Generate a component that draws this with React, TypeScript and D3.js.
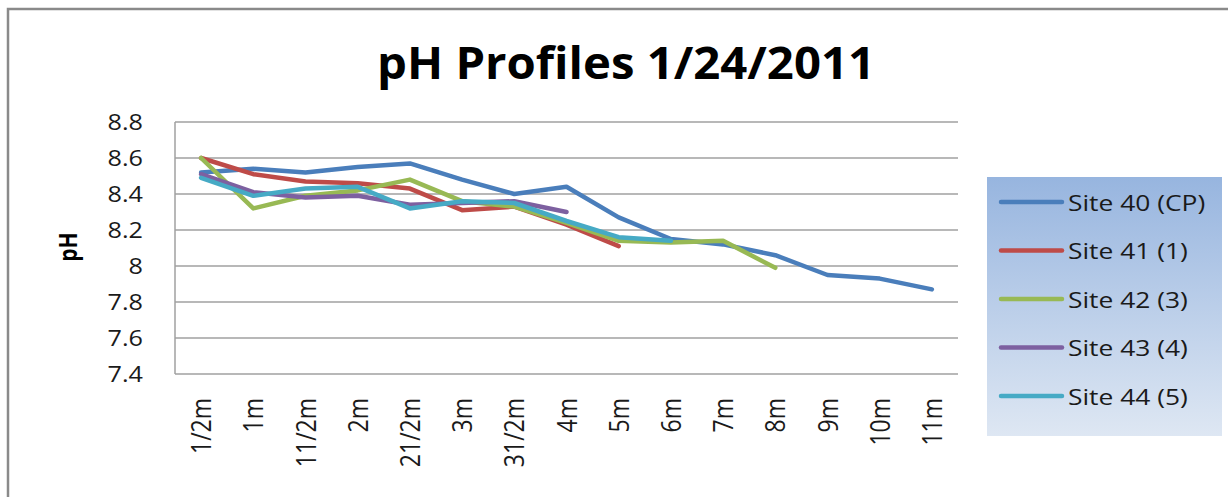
import React from "react";
import * as d3 from "d3";

// depth categories along the x axis
const categories = ["1/2m", "1m", "11/2m", "2m", "21/2m", "3m", "31/2m", "4m", "5m", "6m", "7m", "8m", "9m", "10m", "11m"];

// pH readings per site
const site40 = [8.52, 8.54, 8.52, 8.55, 8.57, 8.48, 8.40, 8.44, 8.27, 8.15, 8.12, 8.06, 7.95, 7.93, 7.87];
const site41 = [8.60, 8.51, 8.47, 8.46, 8.43, 8.31, 8.33, 8.23, 8.11];
const site42 = [8.60, 8.32, 8.39, 8.42, 8.48, 8.36, 8.33, 8.24, 8.14, 8.13, 8.14, 7.99];
const site43 = [8.51, 8.41, 8.38, 8.39, 8.34, 8.35, 8.36, 8.30];
const site44 = [8.49, 8.39, 8.43, 8.44, 8.32, 8.36, 8.35, 8.25, 8.16, 8.14];

const seriesNames = ["Site 40 (CP)", "Site 41 (1)", "Site 42 (3)", "Site 43 (4)", "Site 44 (5)"];
const yTicks = [7.4, 7.6, 7.8, 8, 8.2, 8.4, 8.6, 8.8];

const colors = ["#4A7EBB", "#BE4B48", "#98B954", "#7D60A0", "#46AAC5"];
const font = "'Open Sans', 'DejaVu Sans', sans-serif";

export default function App() {
  const width = 1228;
  const height = 497;
  const plot = { left: 175, right: 958, top: 122, bottom: 374 };

  const x = d3.scaleBand().domain(categories).range([plot.left, plot.right]);
  const y = d3.scaleLinear().domain([7.4, 8.8]).range([plot.bottom, plot.top]);

  const allSeries = [site40, site41, site42, site43, site44];

  const line = d3
    .line<number>()
    .x((d, i) => x(categories[i])! + x.bandwidth() / 2)
    .y((d) => y(d));

  const legend = { x: 987, y: 177, w: 235, h: 259 };

  return (
    <svg
      width={width}
      height={height}
      style={{ position: "absolute", left: 0, top: 0, background: "#fff" }}
    >
      <defs>
        <linearGradient id="legendFill" x1="0" y1="0" x2="0" y2="1">
          <stop offset="0%" stopColor="#97B5DF" />
          <stop offset="100%" stopColor="#DEE7F3" />
        </linearGradient>
      </defs>

      {/* chart frame */}
      <rect x={8} y={9} width={1250} height={510} fill="#fff" stroke="#8A8A8A" strokeWidth={2.5} />

      {/* title */}
      <text
        x={626}
        y={79}
        textAnchor="middle"
        fontFamily={font}
        fontWeight="bold"
        fontSize={45}
        textLength={498}
        lengthAdjust="spacingAndGlyphs"
        fill="#000"
      >
        pH Profiles 1/24/2011
      </text>

      {/* gridlines */}
      {yTicks.map((t) => (
        <line
          key={t}
          x1={plot.left}
          x2={plot.right}
          y1={y(t)}
          y2={y(t)}
          stroke="#A0A0A0"
          strokeWidth={1.5}
        />
      ))}
      <line x1={plot.left} x2={plot.left} y1={plot.top} y2={plot.bottom} stroke="#A0A0A0" strokeWidth={1.5} />

      {/* y tick labels */}
      {yTicks.map((t) => (
        <text
          key={t}
          transform={`translate(143,${y(t)}) scale(1.2,1)`}
          textAnchor="end"
          dominantBaseline="central"
          fontFamily={font}
          fontSize={21}
          fill="#1a1a1a"
        >
          {d3.format("~g")(t)}
        </text>
      ))}

      {/* y axis title */}
      <text
        transform={`translate(68,247) rotate(-90) scale(1,1.15)`}
        textAnchor="middle"
        dominantBaseline="central"
        fontFamily={font}
        fontWeight="bold"
        fontSize={21}
        fill="#000"
      >
        pH
      </text>

      {/* x labels */}
      {categories.map((c) => (
        <text
          key={c}
          transform={`translate(${x(c)! + x.bandwidth() / 2},398) rotate(-90) scale(1,1.15)`}
          textAnchor="end"
          dominantBaseline="central"
          fontFamily={font}
          fontSize={23}
          fill="#1a1a1a"
        >
          {c}
        </text>
      ))}

      {/* series lines */}
      {allSeries.map((s, i) => (
        <path
          key={seriesNames[i]}
          d={line(s) ?? ""}
          fill="none"
          stroke={colors[i]}
          strokeWidth={4.5}
          strokeLinejoin="round"
          strokeLinecap="round"
        />
      ))}

      {/* legend */}
      <rect x={legend.x} y={legend.y} width={legend.w} height={legend.h} fill="url(#legendFill)" />
      {seriesNames.map((name, i) => {
        const ly = 202 + i * 48.5;
        return (
          <g key={name}>
            <line x1={1001} x2={1062} y1={ly} y2={ly} stroke={colors[i]} strokeWidth={4.5} strokeLinecap="round" />
            <text
              transform={`translate(1068,${ly}) scale(1.2,1)`}
              dominantBaseline="central"
              fontFamily={font}
              fontSize={22}
              fill="#1a1a1a"
            >
              {name}
            </text>
          </g>
        );
      })}
    </svg>
  );
}
